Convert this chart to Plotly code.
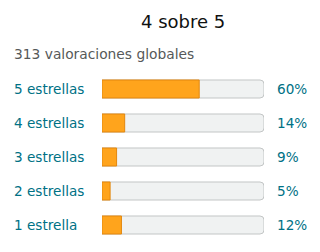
import plotly.graph_objects as go

title_text = "4 sobre 5"
subtitle_text = "313 valoraciones globales"
categories = ["5 estrellas", "4 estrellas", "3 estrellas", "2 estrellas", "1 estrella"]
percentages = [60, 14, 9, 5, 12]
pct_labels = [f"{p}%" for p in percentages]

W, H = 320, 252
ML, MR, MT, MB = 102, 56, 72, 10
plot_w = W - ML - MR

FONT = "DejaVu Sans"
TEAL = "#007185"

fig = go.Figure()
fig.add_trace(go.Bar(
    y=categories, x=[100] * len(categories), orientation="h",
    marker=dict(color="#f0f2f2", line=dict(color="#c3c6c6", width=1)),
    width=0.53, hoverinfo="skip", showlegend=False,
))
fig.add_trace(go.Bar(
    y=categories, x=percentages, orientation="h",
    marker=dict(color="#ffa41c", line=dict(color="#e3870e", width=1)),
    width=0.53, hoverinfo="skip", showlegend=False,
))

annotations = []
for cat, lab in zip(categories, pct_labels):
    annotations.append(dict(
        x=(12 - ML) / plot_w, xref="paper", y=cat, yref="y",
        text=cat, showarrow=False, xanchor="left", yanchor="middle",
        font=dict(family=FONT, size=13.6, color=TEAL),
    ))
    annotations.append(dict(
        x=(275 - ML) / plot_w, xref="paper", y=cat, yref="y",
        text=lab, showarrow=False, xanchor="left", yanchor="middle",
        font=dict(family=FONT, size=13.6, color=TEAL),
    ))
annotations.append(dict(
    x=0.5, xref="paper", y=(H - 22 - MB) / (H - MT - MB) , yref="paper",
    text=title_text, showarrow=False, xanchor="center", yanchor="middle",
    font=dict(family=FONT, size=18, color="#0f1111"),
))
annotations.append(dict(
    x=(12 - ML) / plot_w, xref="paper", y=(H - 54 - MB) / (H - MT - MB), yref="paper",
    text=subtitle_text, showarrow=False, xanchor="left", yanchor="middle",
    font=dict(family=FONT, size=13.8, color="#565959"),
))

fig.update_layout(
    width=W, height=H,
    margin=dict(l=ML, r=MR, t=MT, b=MB),
    paper_bgcolor="white", plot_bgcolor="white",
    barmode="overlay", barcornerradius=4,
    xaxis=dict(range=[0, 100], visible=False, fixedrange=True),
    yaxis=dict(categoryorder="array", categoryarray=categories, autorange="reversed",
               visible=False, fixedrange=True),
    annotations=annotations,
    font=dict(family=FONT),
)

fig.write_html("out.html", config={"displayModeBar": False})
